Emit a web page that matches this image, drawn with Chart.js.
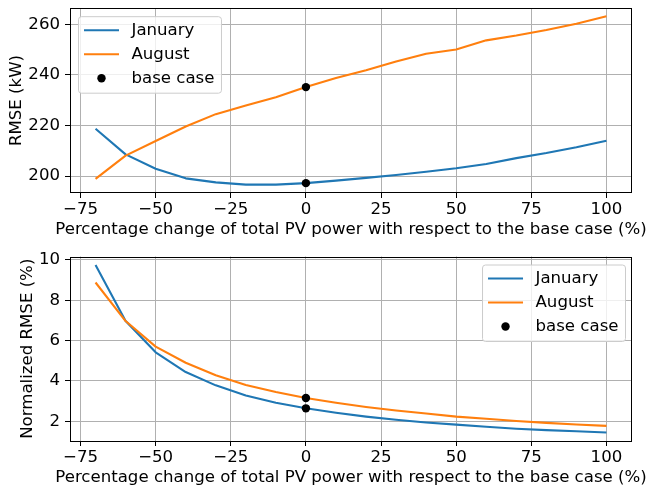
<!DOCTYPE html>
<html>
<head>
<meta charset="utf-8">
<script src="https://cdn.jsdelivr.net/npm/chart.js@4.4.0/dist/chart.umd.min.js"></script>
<style>
  html, body { margin: 0; padding: 0; background: #fff; }
  #wrap { position: relative; width: 646px; height: 487px; }
  canvas { position: absolute; left: 0; }
</style>
</head>
<body>
<div id="wrap">
  <canvas id="rmseChart" width="646" height="245" style="top:0"></canvas>
  <canvas id="nrmseChart" width="646" height="242" style="top:245px"></canvas>
</div>
<script>
// PV change (%) on x, both panels share it
const pvChange = [-70, -60, -50, -40, -30, -20, -10, 0, 10, 20, 30, 40, 50, 60, 70, 80, 90, 100];

// top panel: RMSE (kW)
const rmseJan = [218.7, 208.6, 202.9, 199.1, 197.5, 196.6, 196.6, 197.2, 198.2, 199.3, 200.4, 201.7, 203.1, 204.8, 207.1, 209.1, 211.4, 214.0];
const rmseAug = [198.9, 208.1, 213.9, 219.6, 224.5, 227.9, 231.2, 235.2, 238.8, 241.9, 245.3, 248.4, 250.1, 253.7, 255.6, 257.8, 260.3, 263.2];

// bottom panel: normalized RMSE (%)
const nrmseJan = [9.75, 6.97, 5.42, 4.44, 3.78, 3.28, 2.92, 2.64, 2.42, 2.23, 2.07, 1.94, 1.83, 1.73, 1.63, 1.56, 1.50, 1.44];
const nrmseAug = [8.88, 6.97, 5.70, 4.90, 4.28, 3.80, 3.45, 3.15, 2.92, 2.71, 2.53, 2.38, 2.23, 2.12, 2.01, 1.92, 1.84, 1.77];

// base case markers (x = 0)
const baseX = [0, 0];
const baseRmse = [197.2, 235.2];
const baseNrmse = [2.64, 3.15];

const xTicks = [-75, -50, -25, 0, 25, 50, 75, 100];
const rmseTicks = [200, 220, 240, 260];
const nrmseTicks = [2, 4, 6, 8, 10];

const xLabel = 'Percentage change of total PV power with respect to the base case (%)';

const BLUE = '#1f77b4', ORANGE = '#ff7f0e';
const FONT_SIZE = 16.6;
const FONT = FONT_SIZE + 'px "DejaVu Sans"';
Chart.defaults.font.family = '"DejaVu Sans", sans-serif';
Chart.defaults.font.size = FONT_SIZE;
Chart.defaults.color = '#000';

const pts = (xs, ys) => xs.map((x, i) => ({ x: x, y: ys[i] }));
const minusFmt = v => (v < 0 ? '\u2212' + Math.abs(v) : String(v));

// frame, x title and an in-axes legend, matplotlib style
const mplBox = {
  id: 'mplBox',
  afterDraw(chart, args, opts) {
    const ctx = chart.ctx, a = chart.chartArea;
    ctx.save();
    ctx.strokeStyle = '#000';
    ctx.lineWidth = 1;
    ctx.strokeRect(Math.round(a.left) + 0.5, Math.round(a.top) + 0.5,
      Math.round(a.right - a.left) - 1, Math.round(a.bottom - a.top) - 1);

    ctx.fillStyle = '#000';
    ctx.font = FONT;
    ctx.textAlign = 'center';
    ctx.textBaseline = 'alphabetic';
    ctx.fillText(xLabel, (a.left + a.right) / 2, a.bottom + 41);

    // legend
    const lg = opts.legend;
    const sets = chart.data.datasets;
    const textW = Math.max(...sets.map(d => ctx.measureText(d.label).width));
    const w = 53 + textW + 7, h = 76.5;
    const x0 = lg.right !== undefined ? a.right - lg.right - w : a.left + lg.left;
    const y0 = a.top + lg.top;
    ctx.beginPath();
    ctx.roundRect(x0, y0, w, h, 3);
    ctx.fillStyle = 'rgba(255,255,255,0.8)';
    ctx.fill();
    ctx.strokeStyle = '#cccccc';
    ctx.stroke();
    sets.forEach((d, i) => {
      const yy = y0 + 13.5 + i * 24;
      if (d.showLine === false) {
        ctx.beginPath();
        ctx.arc(x0 + 23, yy, d.pointRadius, 0, Math.PI * 2);
        ctx.fillStyle = d.pointBackgroundColor;
        ctx.fill();
      } else {
        ctx.beginPath();
        ctx.moveTo(x0 + 5.5, yy);
        ctx.lineTo(x0 + 40.5, yy);
        ctx.strokeStyle = d.borderColor;
        ctx.lineWidth = d.borderWidth;
        ctx.stroke();
      }
      ctx.fillStyle = '#000';
      ctx.textAlign = 'left';
      ctx.textBaseline = 'middle';
      ctx.fillText(d.label, x0 + 53, yy);
    });
    ctx.restore();
  }
};

function makeChart(id, jan, aug, base, yMin, yMax, yTicks, yTitle, yTitlePad, pad, xHeight, legend) {
  return new Chart(document.getElementById(id), {
    type: 'line',
    data: {
      datasets: [
        { label: 'January', data: pts(pvChange, jan), borderColor: BLUE, borderWidth: 2.1,
          pointRadius: 0, tension: 0, order: 2, borderJoinStyle: 'round' },
        { label: 'August', data: pts(pvChange, aug), borderColor: ORANGE, borderWidth: 2.1,
          pointRadius: 0, tension: 0, order: 1, borderJoinStyle: 'round' },
        { label: 'base case', data: pts(baseX, base), showLine: false, pointRadius: 4.2,
          pointBackgroundColor: '#000', pointBorderWidth: 0, borderColor: '#000', order: 0 }
      ]
    },
    options: {
      responsive: false,
      animation: false,
      layout: { padding: pad, autoPadding: false },
      plugins: { legend: { display: false }, tooltip: { enabled: false }, mplBox: { legend: legend } },
      scales: {
        x: {
          type: 'linear', min: -78.5, max: 108.5,
          afterBuildTicks: s => { s.ticks = xTicks.map(v => ({ value: v })); },
          afterFit: s => { s.height = xHeight; s.paddingLeft = 0; s.paddingRight = 0; },
          ticks: { callback: minusFmt, padding: 1.5, maxRotation: 0, autoSkip: false },
          grid: { color: '#b0b0b0', lineWidth: 1, tickColor: '#000', tickLength: 5, tickWidth: 1 },
          border: { display: false }
        },
        y: {
          min: yMin, max: yMax,
          afterBuildTicks: s => { s.ticks = yTicks.map(v => ({ value: v })); },
          afterFit: s => { s.width = 70; s.paddingTop = 0; s.paddingBottom = 0; },
          ticks: { callback: minusFmt, padding: 5 },
          grid: { color: '#b0b0b0', lineWidth: 1, tickColor: '#000', tickLength: 5, tickWidth: 1 },
          border: { display: false },
          title: { display: true, text: yTitle, padding: { top: yTitlePad, bottom: 0 } }
        }
      }
    },
    plugins: [mplBox]
  });
}

makeChart('rmseChart', rmseJan, rmseAug, baseRmse, 193.3, 266.5, rmseTicks, 'RMSE (kW)', 7,
  { top: 8, right: 14, bottom: 0, left: 0 }, 52, { left: 8.5, top: 8.7 });
makeChart('nrmseChart', nrmseJan, nrmseAug, baseNrmse, 1.02, 10.17, nrmseTicks, 'Normalized RMSE (%)', 18,
  { top: 11.5, right: 14, bottom: 0, left: 0 }, 46, { right: 6.5, top: 8.5 });
</script>
</body>
</html>
